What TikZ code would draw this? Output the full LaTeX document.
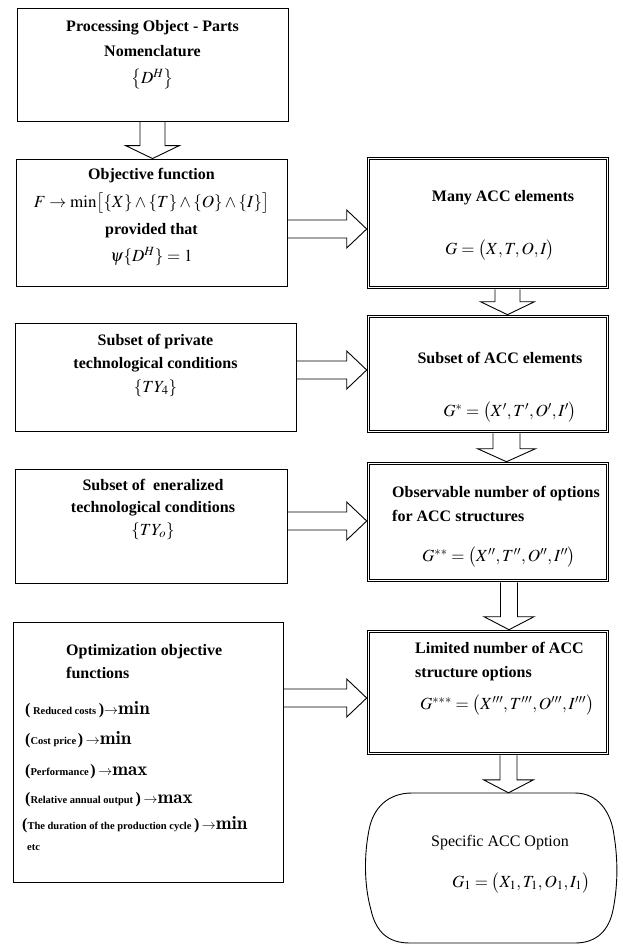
\documentclass[tikz,border=0pt]{standalone}
\usepackage{mathptmx}
\usepackage{fontspec}
\setmainfont{Liberation Serif}
\usetikzlibrary{calc}

\tikzset{
  box/.style={draw,line width=0.9pt,inner sep=0pt},
  dbox/.style={draw,double,double distance=1.8pt,line width=0.9pt,inner sep=0pt,
    outer sep=1.8pt,minimum width=239pt,minimum height=#1},
  hollow/.style={draw,line width=0.9pt,line join=miter},
  head/.style={font=\fontsize{16}{24}\selectfont\bfseries,align=center,inner sep=0pt},
  lefthead/.style={head,align=left,anchor=west},
  formula/.style={inner sep=0pt,font=\fontsize{17}{24}\selectfont},
  goal/.style={anchor=west,inner sep=0pt},
}

\newcommand\fml[1]{{\fontsize{17}{24}\selectfont$#1$}}
\newcommand\bigp[1]{{\fontsize{16}{16}\selectfont\bfseries#1}}
\newcommand\crit[1]{{\fontsize{10.5}{12}\selectfont\bfseries#1}}
\newcommand\tgt[1]{{\fontsize{14}{14}\selectfont$\rightarrow$}{\fontfamily{lmr}\fontsize{19}{19}\bfseries\selectfont#1}}

% hollow block arrows: from, to, x, shaft half width, head half width
\newcommand\blockdown[5]{%
  \draw[hollow] let \p1=(#1.south), \p2=(#2.north) in
    ({#3pt-#4pt},\y1) -- ({#3pt-#4pt},\y2+13pt) -- ({#3pt-#5pt},\y2+13pt) -- (#3pt,\y2)
    -- ({#3pt+#5pt},\y2+13pt) -- ({#3pt+#4pt},\y2+13pt) -- ({#3pt+#4pt},\y1);}
% from, to, y
\newcommand\blockright[3]{%
  \draw[hollow] let \p1=(#1.east), \p2=(#2.west) in
    (\x1,{-#3pt+9pt}) -- (\x2-20pt,{-#3pt+9pt}) -- (\x2-20pt,{-#3pt+19pt}) -- (\x2,-#3pt)
    -- (\x2-20pt,{-#3pt-19pt}) -- (\x2-20pt,{-#3pt-9pt}) -- (\x1,{-#3pt-9pt});}

\begin{document}
\begin{tikzpicture}[x=1pt,y=1pt]
\useasboundingbox (0,0) rectangle (622,-946);

% left column
\node[box,minimum width=271pt,minimum height=113pt] (parts) at (152.5,-64.5) {};
\node[head,font=\fontsize{16}{25}\selectfont\bfseries] (parts-t) at (152.5,-55)
  {Processing Object - Parts\\Nomenclature\\[2pt]\fml{\bigl\{D^H\bigr\}}};

\node[box,minimum width=271pt,minimum height=127pt] (objective) at (151.5,-222.5) {};
\node[head,font=\fontsize{16}{27}\selectfont\bfseries] (objective-t) at (151.5,-217)
  {Objective function\\[1pt]\fml{F\rightarrow\min\bigl[\{X\}\wedge\{T\}\wedge\{O\}\wedge\{I\}\bigr]}\\provided that\\\fml{\psi\{D^H\}=1}};

\node[box,minimum width=281pt,minimum height=108pt] (private) at (155.5,-377) {};
\node[head,font=\fontsize{16}{23.5}\selectfont\bfseries] (private-t) at (155.5,-365)
  {Subset of private\\technological conditions\\\fml{\{TY_4\}}};

\node[box,minimum width=272pt,minimum height=114pt] (general) at (151,-526) {};
\node[head,font=\fontsize{16}{22.5}\selectfont\bfseries] (general-t) at (153,-509)
  {Subset of \ eneralized\\technological conditions\\\fml{\{TY_o\}}};

\node[box,minimum width=270pt,minimum height=260pt] (optim) at (148,-752) {};
\node[lefthead,font=\fontsize{16}{23}\selectfont\bfseries] (optim-t) at (66,-662)
  {Optimization objective\\functions};
\node[goal] (g1) at (25,-710) {\bigp{(}\ \crit{Reduced costs}\ \bigp{)}\tgt{min}};
\node[goal] (g2) at (25,-740) {\bigp{(}\crit{Cost price}\,\bigp{)} \tgt{min}};
\node[goal] (g3) at (25,-772) {\bigp{(}\crit{Performance}\,\bigp{)} \tgt{max}};
\node[goal] (g4) at (25,-800) {\bigp{(}\crit{Relative annual output}\ \bigp{)} \tgt{max}};
\node[goal] (g5) at (22,-825) {\bigp{(}\crit{The duration of the production cycle}\ \bigp{)} \tgt{min}};
\node[goal] (g6) at (27,-848) {\crit{etc}};

% right column
\node[dbox=129pt] (many) at (488,-223) {};
\node[head] (many-t) at (503,-198) {Many ACC elements};
\node[formula] (many-f) at (500,-250) {$G=\bigl(X,T,O,I\bigr)$};

\node[dbox=115pt] (subset) at (488,-374) {};
\node[head] (subset-t) at (500,-358) {Subset of ACC elements};
\node[formula] (subset-f) at (510,-412) {$G^{*}=\bigl(X',T',O',I'\bigr)$};

\node[dbox=117pt] (observ) at (488,-522) {};
\node[lefthead] (observ-t) at (392,-504) {Observable number of options\\for ACC structures};
\node[formula] (observ-f) at (499,-557) {$G^{**}=\bigl(X'',T'',O'',I''\bigr)$};

\node[dbox=122pt] (limited) at (488,-692.5) {};
\node[lefthead] (limited-t) at (415,-662) {Limited number of ACC\\structure options};
\node[formula] (limited-f) at (507,-705) {$G^{***}=\bigl(X''',T''',O''',I'''\bigr)$};

\node[minimum width=252pt,minimum height=150pt,inner sep=0pt] (option) at (491,-868) {};
\draw[line width=0.9pt] (412,-793) -- (575,-793) .. controls (598,-793) and (611,-812) .. (614,-835)
  .. controls (618,-860) and (618,-885) .. (613,-910) .. controls (609,-930) and (597,-943) .. (575,-943)
  -- (410,-943) .. controls (388,-943) and (376,-932) .. (371,-910)
  .. controls (364,-885) and (364,-855) .. (369,-830) .. controls (373,-808) and (388,-793) .. (412,-793) -- cycle;
\node[inner sep=0pt,font=\fontsize{16}{24}\selectfont] (option-t) at (500,-843) {Specific ACC Option};
\node[formula] (option-f) at (521,-883) {$G_1=\bigl(X_1,T_1,O_1,I_1\bigr)$};

% arrows
\blockdown{parts}{objective}{152.5}{12.5}{27}
\blockdown{many}{subset}{507.5}{12.5}{27}
\blockdown{subset}{observ}{506.5}{13.5}{29}
\blockdown{observ}{limited}{509}{8.5}{25}
\blockdown{limited}{option}{508.5}{8.5}{25}
\blockright{objective}{many}{229}
\blockright{private}{subset}{370}
\blockright{general}{observ}{521}
\blockright{optim}{limited}{698}
\end{tikzpicture}
\end{document}
